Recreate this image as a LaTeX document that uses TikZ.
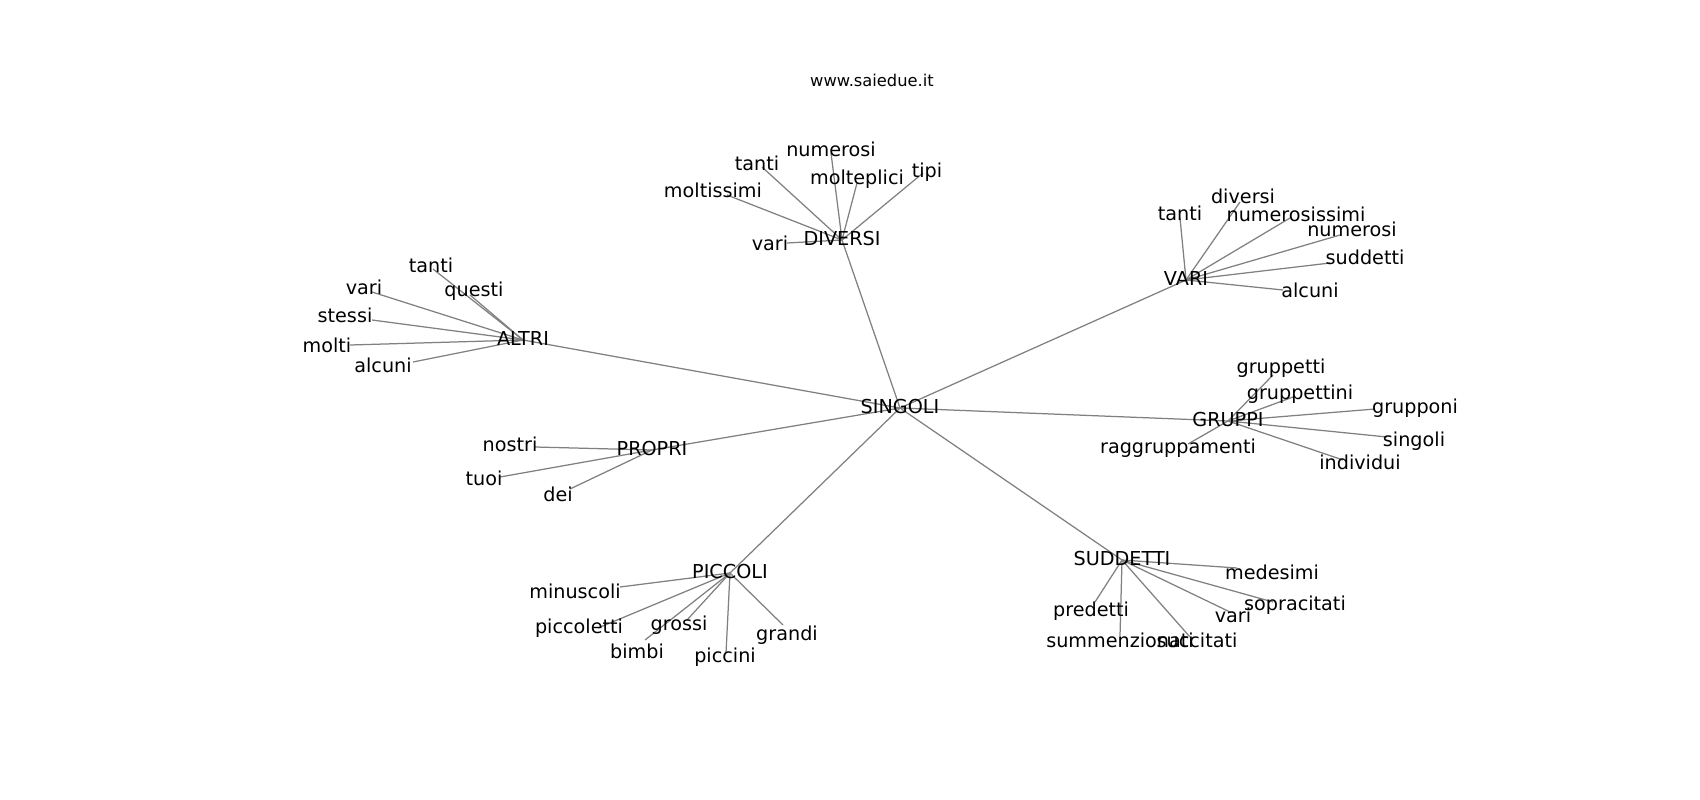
\documentclass[tikz,border=0pt]{standalone}
\usepackage{fontspec}
\setmainfont{DejaVu Sans}
\usetikzlibrary{backgrounds}
\tikzset{
    %Define style for words
    word/.style={
           font=\fontsize{19.2}{23}\selectfont,
           anchor=base,
           inner sep=0pt,
           text height=14.6pt,
           text depth=4.6pt},
    hub/.style={word},
    title/.style={
           font=\fontsize{16.3}{19}\selectfont,
           anchor=base,
           inner sep=0pt},
    % Define line style
    link/.style={
           draw=black!50,
           line width=1.25pt}
}

\begin{document}
\begin{tikzpicture}[x=1pt,y=-1pt]
\useasboundingbox (0,0) rectangle (1700,800);
\node[title] (site) at (872,87) {www.saiedue.it};
 %hubs
\node[hub] (singoli) at (900,413) {SINGOLI};
\node[hub] (diversi) at (842,245) {DIVERSI};
\node[hub] (vari) at (1186,285) {VARI};
\node[hub] (altri) at (523,345) {ALTRI};
\node[hub] (gruppi) at (1228,426) {GRUPPI};
\node[hub] (suddetti) at (1122,565) {SUDDETTI};
\node[hub] (piccoli) at (730,578) {PICCOLI};
\node[hub] (propri) at (652,455) {PROPRI};
\begin{pgfonlayer}{background}
\path[link]
    (singoli.center) edge (diversi.center)
    (singoli.center) edge (vari.center)
    (singoli.center) edge (altri.center)
    (singoli.center) edge (gruppi.center)
    (singoli.center) edge (suddetti.center)
    (singoli.center) edge (piccoli.center)
    (singoli.center) edge (propri.center);
\end{pgfonlayer}
 %leaves of DIVERSI
\foreach \k/\w/\x/\y/\ex/\ey in {1/numerosi/831/156/831/153, 2/tanti/757/170/762/167,
    3/molteplici/857/184/857/183, 4/tipi/927/177/923/173,
    5/moltissimi/713/197/727/195, 6/vari/770/250/787/243}{
  \node[word] (d-\k) at (\x,\y) {\w};
  \coordinate (d-\k-end) at (\ex,\ey);
  \begin{pgfonlayer}{background}
  \draw[link] (diversi.center) -- (d-\k-end);
  \end{pgfonlayer}
}
 %leaves of VARI
\foreach \k/\w/\x/\y/\ex/\ey in {1/tanti/1180/220/1180/218, 2/diversi/1243/203/1240/202,
    3/numerosissimi/1296/221/1290/218, 4/numerosi/1352/236/1340/235,
    5/suddetti/1365/264/1330/263, 6/alcuni/1310/297/1283/290}{
  \node[word] (v-\k) at (\x,\y) {\w};
  \coordinate (v-\k-end) at (\ex,\ey);
  \begin{pgfonlayer}{background}
  \draw[link] (vari.center) -- (v-\k-end);
  \end{pgfonlayer}
}
 %leaves of ALTRI
\foreach \k/\w/\x/\y/\ex/\ey in {1/tanti/431/272/433/269, 2/vari/364/294/372/292,
    3/questi/474/296/470/295, 4/stessi/345/322/372/320,
    5/molti/327/352/350/345, 6/alcuni/383/372/413/362}{
  \node[word] (a-\k) at (\x,\y) {\w};
  \coordinate (a-\k-end) at (\ex,\ey);
  \begin{pgfonlayer}{background}
  \draw[link] (altri.center) -- (a-\k-end);
  \end{pgfonlayer}
}
 %leaves of GRUPPI
\foreach \k/\w/\x/\y/\ex/\ey in {1/gruppetti/1281/373/1273/375, 2/gruppettini/1300/399/1293/397,
    3/grupponi/1415/413/1375/409, 4/singoli/1414/446/1387/437,
    5/individui/1360/469/1343/460, 6/raggruppamenti/1178/453/1188/444}{
  \node[word] (g-\k) at (\x,\y) {\w};
  \coordinate (g-\k-end) at (\ex,\ey);
  \begin{pgfonlayer}{background}
  \draw[link] (gruppi.center) -- (g-\k-end);
  \end{pgfonlayer}
}
 %leaves of SUDDETTI
\foreach \k/\w/\x/\y/\ex/\ey in {1/medesimi/1272/579/1237/568, 2/predetti/1091/616/1095/602,
    3/sopracitati/1295/610/1273/602, 4/vari/1233/622/1230/612,
    5/summenzionati/1120/647/1120/636, 6/succitati/1197/647/1190/637}{
  \node[word] (s-\k) at (\x,\y) {\w};
  \coordinate (s-\k-end) at (\ex,\ey);
  \begin{pgfonlayer}{background}
  \draw[link] (suddetti.center) -- (s-\k-end);
  \end{pgfonlayer}
}
 %leaves of PICCOLI
\foreach \k/\w/\x/\y/\ex/\ey in {1/minuscoli/575/598/620/587, 2/piccoletti/579/633/598/628,
    3/grossi/679/630/687/620, 4/bimbi/637/658/645/640,
    5/piccini/725/662/726/653, 6/grandi/787/640/783/625}{
  \node[word] (p-\k) at (\x,\y) {\w};
  \coordinate (p-\k-end) at (\ex,\ey);
  \begin{pgfonlayer}{background}
  \draw[link] (piccoli.center) -- (p-\k-end);
  \end{pgfonlayer}
}
 %leaves of PROPRI
\foreach \k/\w/\x/\y/\ex/\ey in {1/nostri/510/451/535/447, 2/tuoi/484/485/500/477,
    3/dei/558/501/570/489}{
  \node[word] (r-\k) at (\x,\y) {\w};
  \coordinate (r-\k-end) at (\ex,\ey);
  \begin{pgfonlayer}{background}
  \draw[link] (propri.center) -- (r-\k-end);
  \end{pgfonlayer}
}
\end{tikzpicture}
\end{document}
